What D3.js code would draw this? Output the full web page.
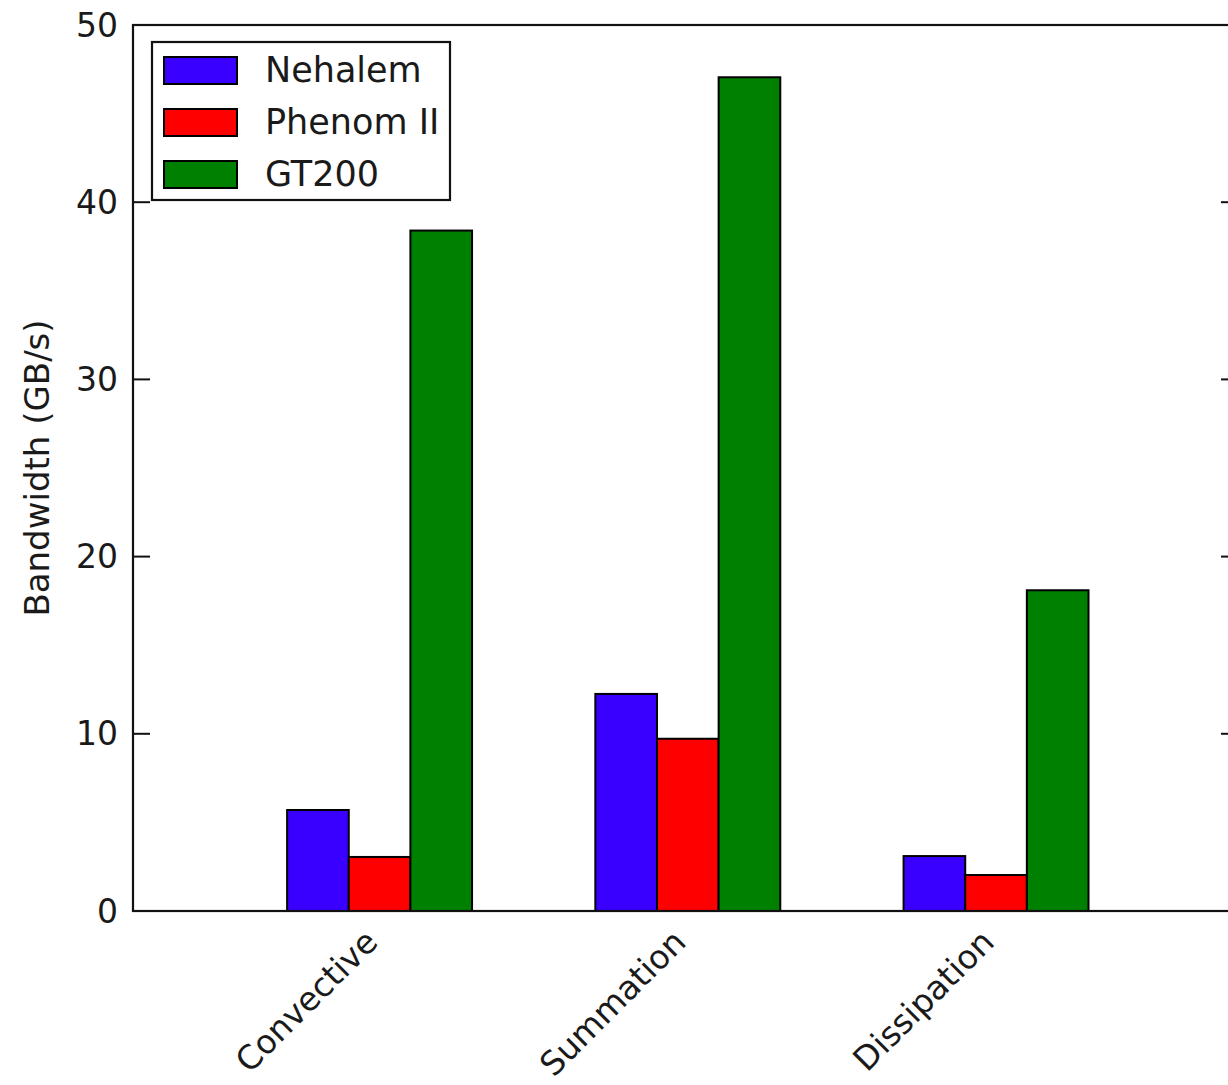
<!DOCTYPE html>
<html>
<head>
<meta charset="utf-8">
<script src="https://cdn.jsdelivr.net/npm/d3@7"></script>
<style>
  html, body { margin: 0; padding: 0; background: #fff; }
  svg { display: block; }
  text { font-family: "DejaVu Sans", sans-serif; fill: #1a1a1a; }
</style>
</head>
<body>
<svg id="chart" width="1228" height="1085"></svg>
<script>
// Memory bandwidth per kernel on three processors
const categories = ["Convective", "Summation", "Dissipation"];
const seriesNames = ["Nehalem", "Phenom II", "GT200"];
const nehalem = [5.70, 12.25, 3.10];
const phenomII = [3.05, 9.72, 2.03];
const gt200 = [38.4, 47.05, 18.1];
const yTicks = [0, 10, 20, 30, 40, 50];
const colors = ["#3a00ff", "#ff0000", "#008000"];

const series = [nehalem, phenomII, gt200];
const barWidth = 0.2;

const svg = d3.select("#chart");
const plotLeft = 133, plotTop = 25, plotBottom = 911, plotRight = 1238;

// numeric x axis: group i starts at i, bars of width 0.2 side by side
const x = d3.scaleLinear().domain([-0.5, 3.085]).range([plotLeft, plotRight]);
const y = d3.scaleLinear().domain([0, 50]).range([plotBottom, plotTop]);

// bars
series.forEach((vals, s) => {
  svg.append("g").selectAll("rect")
    .data(vals)
    .join("rect")
    .attr("x", (d, i) => x(i + s * barWidth))
    .attr("y", d => y(d))
    .attr("width", (d, i) => x(i + (s + 1) * barWidth) - x(i + s * barWidth))
    .attr("height", d => y(0) - y(d))
    .attr("fill", colors[s])
    .attr("stroke", "#000")
    .attr("stroke-width", 2);
});

// frame
svg.append("rect")
  .attr("x", plotLeft).attr("y", plotTop)
  .attr("width", plotRight - plotLeft).attr("height", plotBottom - plotTop)
  .attr("fill", "none").attr("stroke", "#111").attr("stroke-width", 2.2);

// y ticks (inside, on both sides)
const tickLen = 17;
const yt = svg.append("g");
yTicks.forEach(t => {
  yt.append("line")
    .attr("x1", plotLeft).attr("x2", plotLeft + tickLen)
    .attr("y1", y(t)).attr("y2", y(t))
    .attr("stroke", "#111").attr("stroke-width", 2);
  yt.append("line")
    .attr("x1", plotRight - tickLen).attr("x2", plotRight)
    .attr("y1", y(t)).attr("y2", y(t))
    .attr("stroke", "#111").attr("stroke-width", 2);
  yt.append("text")
    .attr("x", plotLeft - 15).attr("y", y(t))
    .attr("text-anchor", "end")
    .attr("dominant-baseline", "central")
    .attr("font-size", 33)
    .text(t);
});

// y label
svg.append("text")
  .attr("transform", `translate(49, ${(plotTop + plotBottom) / 2}) rotate(-90)`)
  .attr("text-anchor", "middle")
  .attr("font-size", 34)
  .text("Bandwidth (GB/s)");

// category labels, rotated 45°, right-aligned at group center
categories.forEach((c, i) => {
  const cx = x(i + 1.5 * barWidth);
  svg.append("text")
    .attr("transform", `translate(${cx}, ${plotBottom + 33}) rotate(-45)`)
    .attr("text-anchor", "end")
    .attr("font-size", 33)
    .text(c);
});

// legend
const lg = svg.append("g");
lg.append("rect")
  .attr("x", 152).attr("y", 42).attr("width", 298).attr("height", 158)
  .attr("fill", "#fff").attr("stroke", "#111").attr("stroke-width", 2.2);
seriesNames.forEach((n, k) => {
  const cy = 70 + k * 52;
  lg.append("rect")
    .attr("x", 164).attr("y", cy - 13).attr("width", 73).attr("height", 27)
    .attr("fill", colors[k]).attr("stroke", "#000").attr("stroke-width", 2);
  lg.append("text")
    .attr("x", 265).attr("y", cy + 12)
    .attr("font-size", 35)
    .text(n);
});
</script>
</body>
</html>
